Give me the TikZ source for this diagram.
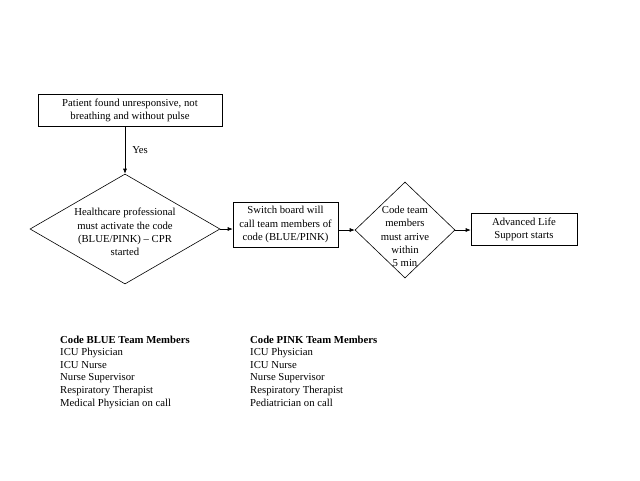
\documentclass[tikz,border=0pt]{standalone}
\usepackage{fontspec}
\setmainfont{Liberation Serif}
\usetikzlibrary{shapes.geometric,arrows.meta}
\begin{document}
\begin{tikzpicture}[x=1pt,y=-1pt,
  every node/.style={font=\fontsize{10.7}{13.2}\selectfont},
  flowbox/.style={draw,line width=0.6pt,align=center,inner sep=0pt},
  flowdia/.style={draw,line width=0.6pt,shape=diamond,inner sep=0pt},
  txt/.style={align=center,inner sep=0pt},
  conn/.style={line width=0.6pt,-{Latex[length=5pt,width=4pt]}},
  listtxt/.style={align=left,anchor=north west,inner sep=0pt,font=\fontsize{10.7}{12.6}\selectfont}]
\useasboundingbox (0,0) rectangle (640,480);
\node[flowbox,minimum width=184pt,minimum height=32pt] (b1) at (130,110) {Patient found unresponsive, not\\breathing and without pulse};
\node[flowdia,minimum width=190pt,minimum height=110pt] (d1) at (125,229) {};
\node[txt] (t1) at (125,232) {Healthcare professional\\must activate the code\\(BLUE/PINK) -- CPR\\started};
\node[flowbox,minimum width=105pt,minimum height=45pt] (b2) at (285.5,224.5) {Switch board will\\call team members of\\code (BLUE/PINK)};
\node[flowdia,minimum width=100pt,minimum height=96pt] (d2) at (405,230) {};
\node[txt] (t2) at (405,236.5) {Code team\\members\\must arrive\\within\\5 min};
\node[flowbox,minimum width=106pt,minimum height=32pt] (b3) at (524,229) {Advanced Life\\Support starts};
\draw[conn] (b1.south -| d1.north) -- node[right,xshift=7pt,inner sep=0pt] (yes) {Yes} (d1.north);
\draw[conn] (d1.east) -- (d1.east -| b2.west);
\draw[conn] (b2.east |- d2.west) -- (d2.west);
\draw[conn] (d2.east) -- (d2.east -| b3.west);
\node[listtxt] (blue) at (60,335.5) {\textbf{Code BLUE Team Members}\\ICU Physician\\ICU Nurse\\Nurse Supervisor\\Respiratory Therapist\\Medical Physician on call};
\node[listtxt] (pink) at (250,335.5) {\textbf{Code PINK Team Members}\\ICU Physician\\ICU Nurse\\Nurse Supervisor\\Respiratory Therapist\\Pediatrician on call};
\end{tikzpicture}
\end{document}
